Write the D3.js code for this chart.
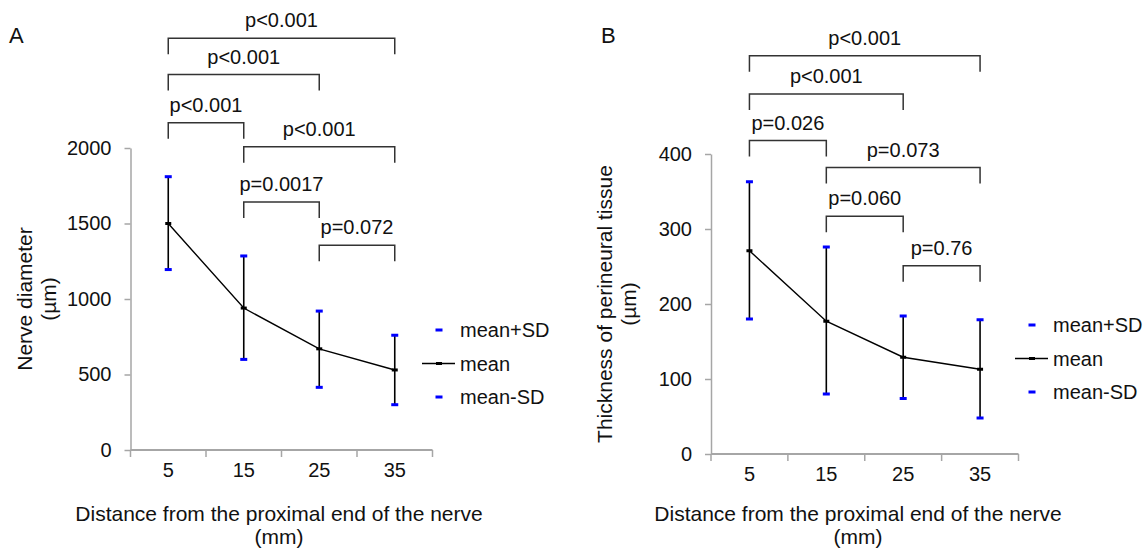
<!DOCTYPE html>
<html>
<head>
<meta charset="utf-8">
<script src="https://cdn.jsdelivr.net/npm/d3@7"></script>
<style>
  html, body { margin: 0; padding: 0; background: #fff; }
  svg { display: block; }
  text { font-family: "Liberation Sans", Arial, sans-serif; fill: #111; }
</style>
</head>
<body>
<svg id="chart" width="1148" height="554"></svg>
<script>
// ---------- data ----------
const categories = ["5", "15", "25", "35"];

const diamMean  = [1500, 940, 670, 530];
const diamUpper = [1810, 1285, 920, 760];
const diamLower = [1195, 600, 415, 300];
const diamTicks = [0, 500, 1000, 1500, 2000];

const thickMean  = [271, 177, 129, 113];
const thickUpper = [363, 276, 184, 179];
const thickLower = [180, 80, 74, 48];
const thickTicks = [0, 100, 200, 300, 400];

const diamBrackets = [
  { from: "5",  to: "35", label: "p<0.001", level: 2727 },
  { from: "5",  to: "25", label: "p<0.001", level: 2486 },
  { from: "5",  to: "15", label: "p<0.001", level: 2168 },
  { from: "15", to: "35", label: "p<0.001", level: 2009 },
  { from: "15", to: "25", label: "p=0.0017", level: 1642 },
  { from: "25", to: "35", label: "p=0.072", level: 1356 }
];
const thickBrackets = [
  { from: "5",  to: "35", label: "p<0.001", level: 531 },
  { from: "5",  to: "25", label: "p<0.001", level: 480 },
  { from: "5",  to: "15", label: "p=0.026", level: 418 },
  { from: "15", to: "35", label: "p=0.073", level: 382 },
  { from: "15", to: "25", label: "p=0.060", level: 317 },
  { from: "25", to: "35", label: "p=0.76", level: 251 }
];

const legendLabels = ["mean+SD", "mean", "mean-SD"];
const xTitle = ["Distance from the proximal end of the nerve", "(mm)"];

// ---------- drawing ----------
const svg = d3.select("#chart");
const AXIS = "#a6a6a6";
const BLUE = "#0000ff";
const BRK = "#333333";

function drawPanel(p) {
  const g = svg.append("g");
  const x = d3.scaleBand().domain(categories).range([p.left, p.right]);
  const y = d3.scaleLinear().domain([0, p.ymax]).range([p.bottom, p.top]);
  const cx = c => x(c) + x.bandwidth() / 2;

  // y axis
  const ya = g.append("g").attr("transform", `translate(${p.left},0)`)
    .call(d3.axisLeft(y).tickValues(p.ticks).tickFormat(d3.format("d"))
      .tickSize(6).tickPadding(13).tickSizeOuter(0));
  ya.select(".domain").attr("stroke", AXIS).attr("stroke-width", 1.5);
  ya.selectAll(".tick line").attr("stroke", AXIS).attr("stroke-width", 1.5);
  ya.selectAll(".tick text").attr("font-size", 20).attr("fill", "#222")
    .style("font-family", '"Liberation Sans", Arial, sans-serif');

  // x axis (band boundaries ticks)
  g.append("line").attr("x1", p.left).attr("x2", p.right)
    .attr("y1", y(0)).attr("y2", y(0)).attr("stroke", AXIS).attr("stroke-width", 2);
  const bounds = categories.map(c => x(c)).concat([p.right]);
  g.selectAll(".xt").data(bounds).join("line")
    .attr("x1", d => d).attr("x2", d => d)
    .attr("y1", y(0)).attr("y2", y(0) + 7)
    .attr("stroke", AXIS).attr("stroke-width", 1.5);
  g.selectAll(".xl").data(categories).join("text")
    .attr("x", d => cx(d)).attr("y", y(0) + 27)
    .attr("text-anchor", "middle").attr("font-size", 20).attr("fill", "#222")
    .text(d => d);

  // axis titles
  g.selectAll(".xtitle").data(xTitle).join("text")
    .attr("x", p.xTitleX).attr("y", (d, i) => 521 + i * 23)
    .attr("text-anchor", "middle").attr("font-size", 21).text(d => d);
  g.selectAll(".ytitle").data(p.yTitle).join("text")
    .attr("transform", (d, i) => `translate(${p.yTitleX + i * 24},${(p.top + p.bottom) / 2}) rotate(-90)`)
    .attr("text-anchor", "middle").attr("font-size", 21).text(d => d);

  // panel letter
  g.append("text").attr("x", p.letterX).attr("y", 43).attr("font-size", 22).text(p.letter);

  // error bars
  categories.forEach((c, i) => {
    g.append("line").attr("x1", cx(c)).attr("x2", cx(c))
      .attr("y1", y(p.upper[i])).attr("y2", y(p.lower[i]))
      .attr("stroke", "#000").attr("stroke-width", 1.6);
  });

  // mean line
  g.append("path")
    .datum(p.mean)
    .attr("d", d3.line().x((d, i) => cx(categories[i])).y(d => y(d)))
    .attr("fill", "none").attr("stroke", "#000").attr("stroke-width", 1.4);

  // caps
  const caps = p.upper.concat(p.lower);
  g.selectAll(".cap").data(caps).join("rect")
    .attr("x", (d, i) => cx(categories[i % 4]) - 3.5)
    .attr("y", d => y(d) - 1.5)
    .attr("width", 7).attr("height", 3).attr("fill", BLUE);
  g.selectAll(".mk").data(p.mean).join("rect")
    .attr("x", (d, i) => cx(categories[i]) - 3)
    .attr("y", d => y(d) - 1.5)
    .attr("width", 6).attr("height", 3).attr("fill", "#000");

  // brackets
  p.brackets.forEach(b => {
    const x1 = cx(b.from), x2 = cx(b.to), yy = y(b.level);
    g.append("path")
      .attr("d", `M${x1},${yy + 16}V${yy}H${x2}V${yy + 16}`)
      .attr("fill", "none").attr("stroke", BRK).attr("stroke-width", 1.5);
    g.append("text").attr("x", (x1 + x2) / 2).attr("y", yy - 11)
      .attr("text-anchor", "middle").attr("font-size", 20).text(b.label);
  });

  // legend
  const ly = p.legendY;
  legendLabels.forEach((lab, i) => {
    const yy = ly + i * p.legendStep;
    if (i === 1) {
      g.append("line").attr("x1", p.legendX - 17).attr("x2", p.legendX + 16)
        .attr("y1", yy).attr("y2", yy).attr("stroke", "#000").attr("stroke-width", 1.4);
      g.append("rect").attr("x", p.legendX - 3).attr("y", yy - 1.5)
        .attr("width", 6).attr("height", 3).attr("fill", "#000");
    } else {
      g.append("rect").attr("x", p.legendX - 3.5).attr("y", yy - 1.5)
        .attr("width", 7).attr("height", 3).attr("fill", BLUE);
    }
    g.append("text").attr("x", p.legendX + 21).attr("y", yy + 7)
      .attr("font-size", 20).text(lab);
  });
}

drawPanel({
  left: 130.5, right: 432.5, top: 148, bottom: 450, ymax: 2000,
  ticks: diamTicks, mean: diamMean, upper: diamUpper, lower: diamLower,
  brackets: diamBrackets, letter: "A", letterX: 9,
  yTitle: ["Nerve diameter", "(\u00b5m)"], yTitleX: 32,
  xTitleX: 279, legendX: 439, legendY: 330, legendStep: 33.5
});

drawPanel({
  left: 711, right: 1018.5, top: 154, bottom: 454, ymax: 400,
  ticks: thickTicks, mean: thickMean, upper: thickUpper, lower: thickLower,
  brackets: thickBrackets, letter: "B", letterX: 601,
  yTitle: ["Thickness of perineural tissue", "(\u00b5m)"], yTitleX: 612,
  xTitleX: 858, legendX: 1032, legendY: 325, legendStep: 33.5
});
</script>
</body>
</html>
